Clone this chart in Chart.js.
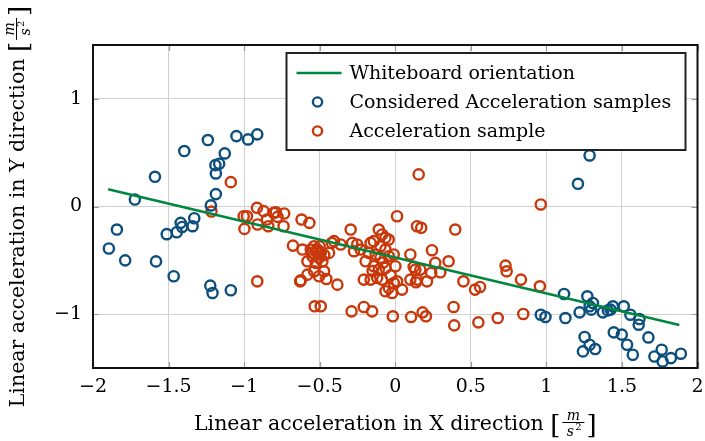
<!DOCTYPE html>
<html>
<head>
<meta charset="utf-8">
<script src="https://cdn.jsdelivr.net/npm/chart.js@4.4.1/dist/chart.umd.min.js"></script>
<style>
html, body { margin: 0; padding: 0; background: #fff; }
</style>
</head>
<body>
<canvas id="chart" width="705" height="441"></canvas>
<script>
// Values

const boardX = [-1.9, 1.88];
const boardY = [0.16, -1.10];

const consideredX = [-1.895, -1.842, -1.787, -1.723, -1.59, -1.583, -1.512, -1.466, -1.446, -1.42,
    -1.41, -1.396, -1.341, -1.33, -1.24, -1.224, -1.209, -1.22, -1.187, -1.187,
    -1.19, -1.165, -1.128, -1.088, -1.051, -0.974, -0.913, 0.963, 0.994, 1.286,
    1.209, 1.117, 1.126, 1.22, 1.271, 1.286, 1.308, 1.297, 1.253, 1.242,
    1.286, 1.323, 1.374, 1.407, 1.44, 1.425, 1.446, 1.499, 1.512, 1.534,
    1.572, 1.556, 1.616, 1.611, 1.675, 1.715, 1.763, 1.769, 1.824, 1.89];
const consideredY = [-0.39, -0.214, -0.50, 0.065, 0.276, -0.51, -0.257, -0.648, -0.239, -0.152,
    -0.19, 0.515, -0.183, -0.109, 0.617, -0.735, -0.803, 0.01, 0.115, 0.307,
    0.384, 0.397, 0.493, -0.778, 0.654, 0.623, 0.67, -1.005, -1.026, 0.474,
    0.211, -0.812, -1.036, -0.983, -0.834, -0.927, -0.896, -0.958, -1.212, -1.346,
    -1.284, -1.324, -0.983, -0.965, -0.927, -0.958, -1.169, -1.19, -0.927, -1.284,
    -1.377, -1.005, -1.045, -1.098, -1.216, -1.393, -1.33, -1.439, -1.408, -1.367];

const sampleX = [-1.088, -1.216, -0.913, -1.003, -0.981, -0.998, -0.915, -0.911, -0.871, -0.849,
    -0.84, -0.805, -0.79, -0.779, -0.735, -0.739, -0.62, -0.568, -0.677, -0.629,
    -0.533, -0.493, -0.614, -0.581, -0.625, -0.581, -0.559, -0.537, -0.515, -0.493,
    -0.548, -0.504, -0.526, -0.482, -0.471, -0.537, -0.504, -0.456, -0.438, -0.42,
    -0.383, -0.405, -0.361, -0.295, -0.285, -0.252, -0.273, -0.229, -0.163, -0.175,
    -0.196, -0.208, -0.163, -0.142, -0.109, -0.087, -0.065, -0.043, -0.098, -0.065,
    -0.13, -0.098, -0.043, -0.142, -0.109, -0.065, -0.12, -0.087, -0.043, -0.065,
    -0.021, -0.01, 0.012, 0.045, 0.012, 0.001, -0.01, 0.1, 0.133, 0.1,
    0.144, -0.289, -0.208, -0.153, -0.016, 0.105, 0.144, 0.155, 0.963, 0.172,
    0.397, 0.243, 0.122, 0.166, 0.265, 0.238, 0.298, 0.353, 0.137, 0.21,
    0.451, 0.528, 0.561, 0.73, 0.737, 0.832, 0.957, 0.181, 0.203, 0.386,
    0.39, 0.55, 0.678, 0.847, -0.52, -0.50, -0.55, -0.47, -0.08, -0.03, -0.15];
const sampleY = [0.226, -0.047, -0.695, -0.09, -0.09, -0.208, -0.012, -0.167, -0.043, -0.121,
    -0.183, -0.059, -0.053, -0.096, -0.065, -0.183, -0.121, -0.152, -0.363, -0.695,
    -0.927, -0.927, -0.40, -0.509, -0.685, -0.633, -0.40, -0.369, -0.40, -0.431,
    -0.462, -0.477, -0.524, -0.509, -0.602, -0.602, -0.648, -0.673, -0.431, -0.338,
    -0.726, -0.322, -0.353, -0.214, -0.338, -0.353, -0.415, -0.40, -0.338, -0.431,
    -0.509, -0.679, -0.679, -0.322, -0.214, -0.26, -0.291, -0.307, -0.369, -0.40,
    -0.446, -0.477, -0.462, -0.555, -0.586, -0.571, -0.663, -0.679, -0.756, -0.787,
    -0.803, -0.71, -0.695, -0.772, -0.09, -0.555, -0.446, -0.446, -0.586, -0.679,
    -0.679, -0.974, -0.933, -0.974, -1.02, -1.026, -0.183, 0.298, 0.019, -0.198,
    -0.214, -0.406, -0.561, -0.586, -0.524, -0.617, -0.611, -0.509, -0.704, -0.695,
    -0.695, -0.772, -0.747, -0.549, -0.602, -0.679, -0.741, -0.983, -1.02, -0.933,
    -1.104, -1.076, -1.036, -0.998, -0.42, -0.37, -0.43, -0.45, -0.52, -0.64, -0.60];

const xTicks = [-2, -1.5, -1, -0.5, 0, 0.5, 1, 1.5, 2];
const yTicks = [-1, 0, 1];

const xTitle = 'Linear acceleration in X direction';
const yTitle = 'Linear acceleration in Y direction';

const BLUE = '#0c4f7e';
const RED = '#c8380a';
const GREEN = '#00873f';
const SERIF = '"DejaVu Serif", serif';

function toPoints(xs, ys) {
    return xs.map((x, i) => ({ x: x, y: ys[i] }));
}

function fmtTick(v) {
    return String(v).replace('-', '\u2212');
}

// titre d'axe avec [m/s^2] en fraction
function drawUnitTitle(ctx, text, cx, cy, rot) {
    ctx.save();
    ctx.translate(cx, cy);
    ctx.rotate(rot);
    ctx.font = '20.5px ' + SERIF;
    const wText = ctx.measureText(text + ' ').width;
    ctx.font = '26px ' + SERIF;
    const wBr = ctx.measureText('[').width;
    const fracW = 22;
    const total = wText + wBr * 2 + fracW + 4;
    let x = -total / 2;
    ctx.fillStyle = '#000';
    ctx.textBaseline = 'alphabetic';
    ctx.textAlign = 'left';
    ctx.font = '20.5px ' + SERIF;
    ctx.fillText(text + ' ', x, 7);
    x += wText;
    ctx.font = '26px ' + SERIF;
    ctx.fillText('[', x, 11);
    x += wBr + 2;
    // fraction
    ctx.font = 'italic 14px ' + SERIF;
    ctx.textAlign = 'center';
    ctx.fillText('m', x + fracW / 2, -3);
    ctx.fillText('s', x + fracW / 2 - 3, 13);
    ctx.font = '10px ' + SERIF;
    ctx.fillText('2', x + fracW / 2 + 5, 7);
    ctx.fillRect(x, -1, fracW, 1);
    x += fracW + 2;
    ctx.textAlign = 'left';
    ctx.font = '26px ' + SERIF;
    ctx.fillText(']', x, 11);
    ctx.restore();
}

const framePlugin = {
    id: 'frame',
    afterDatasetsDraw(chart) {
        const ctx = chart.ctx;
        const a = chart.chartArea;
        const sx = chart.scales.x, sy = chart.scales.y;
        ctx.save();
        // petits traits de graduation a l'interieur
        ctx.strokeStyle = '#9a9a9a';
        ctx.lineWidth = 1.2;
        ctx.beginPath();
        xTicks.forEach(v => {
            const px = Math.round(sx.getPixelForValue(v)) + 0.5;
            ctx.moveTo(px, a.bottom); ctx.lineTo(px, a.bottom - 6);
            ctx.moveTo(px, a.top); ctx.lineTo(px, a.top + 6);
        });
        yTicks.forEach(v => {
            const py = Math.round(sy.getPixelForValue(v)) + 0.5;
            ctx.moveTo(a.left, py); ctx.lineTo(a.left + 6, py);
            ctx.moveTo(a.right, py); ctx.lineTo(a.right - 6, py);
        });
        ctx.stroke();

        ctx.strokeStyle = '#111';
        ctx.lineWidth = 2;
        ctx.strokeRect(a.left, a.top, a.right - a.left, a.bottom - a.top);

        // legende dans le cadre
        const lx = a.right - 411, ly = a.top + 8, lw = 399, lh = 97;
        ctx.fillStyle = '#fff';
        ctx.fillRect(lx, ly, lw, lh);
        ctx.strokeStyle = '#222';
        ctx.lineWidth = 2;
        ctx.strokeRect(lx, ly, lw, lh);
        ctx.font = '19px ' + SERIF;
        ctx.textBaseline = 'middle';
        chart.data.datasets.forEach((ds, i) => {
            const yy = ly + 20 + i * 29;
            ctx.strokeStyle = ds.borderColor;
            ctx.lineWidth = ds.borderWidth;
            ctx.beginPath();
            if (ds.type === 'line') {
                ctx.moveTo(lx + 10, yy);
                ctx.lineTo(lx + 55, yy);
            } else {
                ctx.arc(lx + 31, yy, ds.pointRadius - 0.5, 0, Math.PI * 2);
            }
            ctx.stroke();
            ctx.fillStyle = '#000';
            ctx.fillText(ds.label, lx + 63, yy + 1);
        });
        ctx.restore();
    },
    afterDraw(chart) {
        const a = chart.chartArea;
        const ctx = chart.ctx;
        drawUnitTitle(ctx, xTitle, (a.left + a.right) / 2, 423, 0);
        drawUnitTitle(ctx, yTitle, 17, (a.top + a.bottom) / 2, -Math.PI / 2);
    }
};

const ctx = document.getElementById('chart').getContext('2d');
new Chart(ctx, {
    data: {
        datasets: [
            {
                type: 'line',
                label: 'Whiteboard orientation',
                data: toPoints(boardX, boardY),
                borderColor: GREEN,
                borderWidth: 2.6,
                pointRadius: 0,
                fill: false
            },
            {
                type: 'scatter',
                label: 'Considered Acceleration samples',
                data: toPoints(consideredX, consideredY),
                borderColor: BLUE,
                backgroundColor: 'rgba(0,0,0,0)',
                borderWidth: 2.4,
                pointRadius: 5.1
            },
            {
                type: 'scatter',
                label: 'Acceleration sample',
                data: toPoints(sampleX, sampleY),
                borderColor: RED,
                backgroundColor: 'rgba(0,0,0,0)',
                borderWidth: 2.4,
                pointRadius: 5.1
            }
        ]
    },
    options: {
        responsive: false,
        animation: false,
        layout: { padding: { top: 45, right: 6, left: 0, bottom: 0 } },
        plugins: {
            legend: { display: false },
            tooltip: { enabled: false }
        },
        scales: {
            x: {
                type: 'linear',
                min: -2,
                max: 2,
                afterBuildTicks: s => { s.ticks = xTicks.map(v => ({ value: v })); },
                afterFit: s => { s.height = 73; s.paddingLeft = 0; s.paddingRight = 0; },
                grid: { color: '#d0d0d0', lineWidth: 1, drawTicks: false },
                border: { display: false },
                ticks: {
                    padding: 8,
                    color: '#000',
                    font: { family: SERIF, size: 19 },
                    callback: v => fmtTick(v)
                }
            },
            y: {
                type: 'linear',
                min: -1.5,
                max: 1.5,
                afterBuildTicks: s => { s.ticks = yTicks.map(v => ({ value: v })); },
                afterFit: s => { s.width = 93; s.paddingTop = 0; s.paddingBottom = 0; },
                grid: { color: '#d0d0d0', lineWidth: 1, drawTicks: false },
                border: { display: false },
                ticks: {
                    padding: 11,
                    color: '#000',
                    font: { family: SERIF, size: 19 },
                    callback: v => fmtTick(v)
                }
            }
        }
    },
    plugins: [framePlugin]
});
</script>
</body>
</html>
